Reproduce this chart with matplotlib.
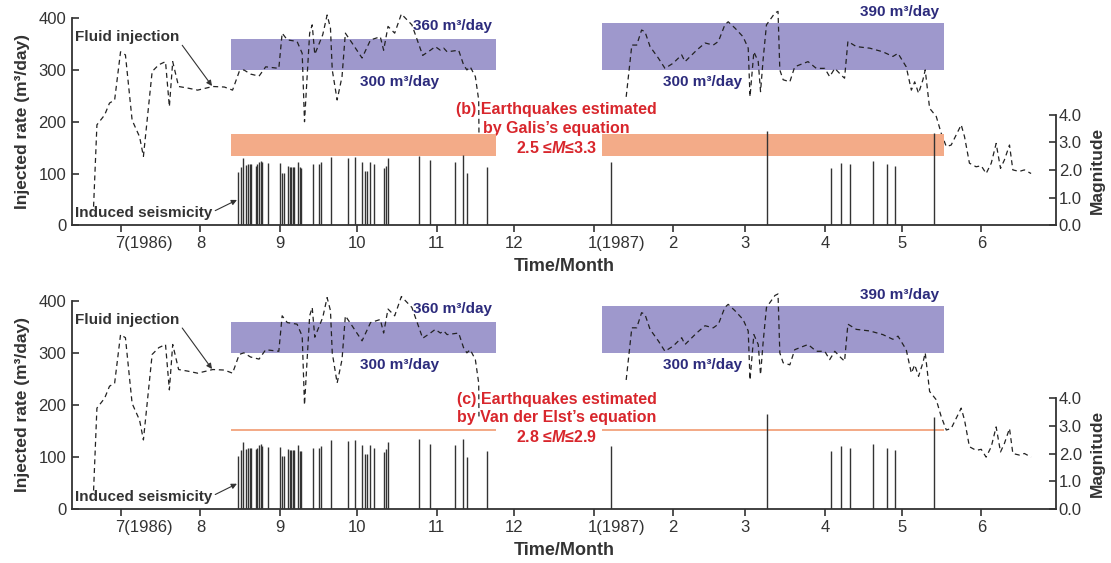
import numpy as np
import matplotlib
matplotlib.use('Agg')
import matplotlib.pyplot as plt
import matplotlib.transforms as mtrans

plt.rcParams['font.family'] = ['Liberation Sans', 'DejaVu Sans']
plt.rcParams['mathtext.fontset'] = 'custom'
plt.rcParams['mathtext.it'] = 'Liberation Sans:italic:bold'
plt.rcParams['mathtext.rm'] = 'Liberation Sans:bold'

# x axis: days counted from 1 July 1986
month_days = [0, 31, 62, 92, 123, 153, 184, 215, 243, 274, 304, 335]
month_labels = ['7(1986)', '8', '9', '10', '11', '12', '1(1987)', '2', '3', '4', '5', '6']

# injected rate (m3/day), two pieces of record
inj_day_a = [-10.6, -9.3, -6.3, -4.4, -2.4, -0.1, 1.8, 4.4, 7.3, 8.8, 12.2, 14.8, 17.4,
             18.9, 20.2, 22.5, 26, 29.9, 35.8, 40.3, 43.5, 46.1, 47.9, 50.5, 53.8, 56.4,
             61.5, 62.8, 64.8, 68.6, 70.6, 71.5, 73.5, 74.5, 75.5, 78.6, 80.3, 81.6, 82.3,
             84.2, 86.1, 87.4, 90, 93.9, 97.2, 101, 102.3, 104, 106.6, 109.2, 113.3, 117.5,
             120.5, 122.4, 124.4, 125.7, 127, 131.5, 133.4, 134.7, 136, 138, 139.3, 139.4]
inj_rate_a = [36, 194, 213, 236, 242, 335, 329, 203, 171, 133, 297, 310, 316,
              229, 316, 268, 265, 261, 268, 267, 261, 297, 300, 292, 288, 306,
              303, 371, 358, 355, 332, 200, 371, 387, 330, 368, 406, 381, 300,
              242, 287, 371, 352, 323, 358, 364, 338, 384, 371, 408, 387, 328,
              338, 345, 338, 342, 335, 338, 310, 300, 306, 287, 242, 178]
inj_day_b = [196.7, 198.9, 200.8, 202.7, 204, 206, 209.2, 211.8, 215, 218.3, 219.6, 224.1,
             227.4, 230.6, 232.6, 235.1, 236.4, 239, 242.2, 244.2, 244.9, 246.4, 248.1, 249,
             250, 251.3, 254.6, 255.8, 256.5, 257.8, 260.4, 262.3, 264.3, 267.5, 270.7, 274,
             275.9, 277.9, 280.4, 281.7, 283, 286.3, 291.5, 296.6, 300.5, 302.5, 305.7, 307.7,
             309, 310.5, 312.2, 313.1, 314.8, 317.4, 319.3, 321.3, 323.2, 325.8, 327.1, 328.4,
             330.3, 332.9, 334.9, 336.8, 338.8, 340.7, 342.4, 343.9, 345.9, 347.2, 349.7, 351.7,
             354.3]
inj_rate_b = [248, 348, 348, 377, 374, 345, 323, 303, 313, 329, 316, 338,
              352, 348, 355, 387, 393, 381, 364, 342, 248, 335, 316, 258,
              320, 387, 410, 413, 300, 281, 277, 306, 310, 316, 303, 303,
              287, 303, 290, 284, 355, 345, 342, 335, 326, 332, 306, 261,
              277, 255, 281, 300, 226, 210, 178, 152, 155, 181, 194, 171,
              120, 113, 115, 100, 120, 158, 110, 126, 155, 107, 104, 107,
              100]

# induced earthquakes
quake_day = [45.7, 46.6, 47.5, 48.8, 49.6, 50.3, 50.8, 52.5, 53.1, 53.8, 54.4, 55.1, 57.4,
             61.9, 62.6, 63.5, 65, 65.7, 66.3, 67, 67.6, 68.9, 69.6, 70.3, 74.7, 77.3, 78,
             81.9, 88.5, 91.1, 93.9, 95.2, 95.8, 96.8, 98.4, 102.3, 103.4, 104, 115.9, 120.2,
             130.2, 133.1, 134.6, 142.5, 190.8, 251.7, 276.6, 280.5, 284, 292.8, 298.4, 301.2,
             316.5]
quake_mag = [1.92, 2.12, 2.43, 2.18, 2.21, 2.22, 2.22, 2.15, 2.21, 2.30, 2.34, 2.28, 2.25,
             2.25, 1.91, 1.91, 2.15, 2.12, 2.12, 2.12, 2.12, 2.30, 2.10, 2.08, 2.21, 2.22, 2.28,
             2.49, 2.44, 2.49, 2.30, 1.98, 1.98, 2.30, 2.21, 2.06, 2.15, 2.43, 2.51, 2.36,
             2.30, 2.53, 1.88, 2.10, 2.28, 3.43, 2.09, 2.27, 2.21, 2.33, 2.22, 2.13,
             3.33]

# constant-rate injection stages: start day, end day, low rate, high rate
rate_stages = [(42.7, 146.0, 300, 360), (187.3, 320.5, 300, 390)]
# estimated magnitude ranges for the two panels
mag_range_b = (2.5, 3.3)
mag_range_c = (2.8, 2.9)

PURPLE = '#9e98cc'
ORANGE = '#f3ab88'
NAVY = '#2c2b7c'
RED = '#d8262c'
DARK = '#333333'

fig = plt.figure(figsize=(11.11, 5.63), dpi=100)


def draw_panel(rect, mag_range, label_lines, text_y):
    ax = fig.add_axes(rect)
    ax2 = ax.twinx()

    for d0, d1, lo, hi in rate_stages:
        ax.fill_between([d0, d1], lo, hi, color=PURPLE, lw=0, zorder=1)

    day = inj_day_a + [np.nan] + inj_day_b
    rate = inj_rate_a + [np.nan] + inj_rate_b
    ax.plot(day, rate, color='#222222', lw=0.9, ls=(0, (4, 3)), zorder=3, clip_on=False)

    for d0, d1, _, _ in rate_stages:
        ax2.fill_between([d0, d1], mag_range[0], mag_range[1], color=ORANGE, lw=0, zorder=1)
    ax2.vlines(quake_day, 0, quake_mag, color=DARK, lw=1.0, zorder=2)

    ax.set_xlim(-19, 364)
    ax.set_ylim(0, 400)
    ax2.set_ylim(0, 7.5)

    for s in ['top', 'right']:
        ax.spines[s].set_visible(False)
    for s in ['top', 'left', 'bottom']:
        ax2.spines[s].set_visible(False)
    ax.spines['left'].set_bounds(0, 400)
    ax2.spines['right'].set_bounds(0, 4)
    for sp in [ax.spines['left'], ax.spines['bottom'], ax2.spines['right']]:
        sp.set_color(DARK)
        sp.set_linewidth(1.3)

    ax.set_yticks([0, 100, 200, 300, 400])
    ax.set_xticks(month_days)
    ax.set_xticklabels(month_labels)
    ax2.set_yticks([0, 1, 2, 3, 4])
    ax2.set_yticklabels(['%.1f' % v for v in [0, 1, 2, 3, 4]])
    ax.tick_params(axis='y', direction='in', length=5, width=1.2, colors=DARK, labelsize=12, pad=4)
    ax.tick_params(axis='x', direction='out', length=5, width=1.2, colors=DARK, labelsize=12, pad=3)
    ax2.tick_params(axis='y', direction='in', length=5, width=1.2, colors=DARK, labelsize=12, pad=2)

    # years labels: the month digit sits on the tick
    shift = mtrans.ScaledTranslation(-4 / 72, 0, fig.dpi_scale_trans)
    labels = ax.get_xticklabels()
    for i in [0, 6]:
        labels[i].set_horizontalalignment('left')
        labels[i].set_transform(labels[i].get_transform() + shift)

    ax.set_ylabel('Injected rate (m³/day)', fontsize=12.5, fontweight='bold', color=DARK, labelpad=6)
    ax.set_xlabel('Time/Month', fontsize=13, fontweight='bold', color=DARK, labelpad=5)
    ax2.set_ylabel('Magnitude', fontsize=12.5, fontweight='bold', color=DARK)
    ax2.yaxis.set_label_coords(1.034, 2 / 7.5)

    txt = dict(fontsize=11, fontweight='bold', color=NAVY, ha='center', va='center', clip_on=False)
    ax.text(129, 385, '360 m³/day', **txt)
    ax.text(108.5, 277, '300 m³/day', **txt)
    ax.text(226.4, 277, '300 m³/day', **txt)
    ax.text(303.2, 411, '390 m³/day', **txt)

    ax.text(169.7, text_y, label_lines, fontsize=11.5, fontweight='bold', color=RED,
            ha='center', va='center', multialignment='center', linespacing=1.3)

    arrow = dict(arrowstyle='-|>', color=DARK, lw=0.8, shrinkA=0, shrinkB=0, mutation_scale=8)
    ax.annotate('Fluid injection', xy=(35.5, 269), xytext=(-17.8, 363), ha='left', va='center',
                fontsize=11, fontweight='bold', color=DARK,
                arrowprops=dict(arrow, relpos=(1.0, 0.2)))
    ax.annotate('Induced seismicity', xy=(45.2, 49), xytext=(-17.8, 23), ha='left', va='center',
                fontsize=11, fontweight='bold', color=DARK,
                arrowprops=dict(arrow, relpos=(1.0, 0.6)))
    return ax, ax2


draw_panel([0.0648, 0.5998, 0.8857, 0.368], mag_range_b,
           '(b) Earthquakes estimated\nby Galis’s equation\n2.5 ≤$\\mathit{M}$≤3.3', 186)
draw_panel([0.0648, 0.0954, 0.8857, 0.3705], mag_range_c,
           '(c) Earthquakes estimated\nby Van der Elst’s equation\n2.8 ≤$\\mathit{M}$≤2.9', 174)

fig.savefig('out.png', dpi=100)
